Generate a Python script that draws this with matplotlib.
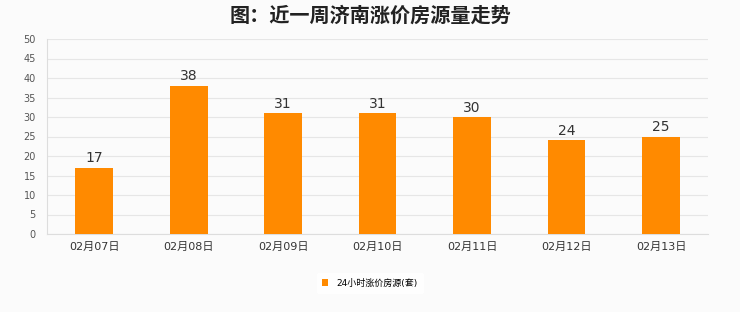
import numpy as np
import matplotlib.pyplot as plt

plt.rcParams['font.family'] = ['DejaVu Sans', 'Noto Sans CJK SC']

dates = ['02月07日', '02月08日', '02月09日', '02月10日', '02月11日', '02月12日', '02月13日']
counts = [17, 38, 31, 31, 30, 24, 25]
series_name = '24小时涨价房源(套)'
title = '图：近一周济南涨价房源量走势'

bg = '#fbfbfb'
orange = '#ff8a00'

fig = plt.figure(figsize=(7.4, 3.12), dpi=100, facecolor=bg)
ax = fig.add_axes([0.0635, 0.25, 0.8935, 0.625], facecolor=bg)

x = np.arange(len(dates))
bars = ax.bar(x, counts, width=0.4, color=orange, label=series_name, zorder=3)
for xi, v in zip(x, counts):
    ax.text(xi, v + 0.6, str(v), ha='center', va='bottom', fontsize=10, color='#333333')

ax.set_xlim(-0.5, len(dates) - 0.5)
ax.set_ylim(0, 50)
ax.set_yticks(range(0, 51, 5))
ax.set_xticks(x)
ax.set_xticklabels(dates, fontsize=8, color='#333333')
ax.tick_params(axis='y', labelsize=7, colors='#555555', length=0, pad=8)
ax.tick_params(axis='x', length=0, pad=6)
ax.grid(axis='y', color='#e6e6e6', linewidth=0.8, zorder=0)
for s in ['top', 'right']:
    ax.spines[s].set_visible(False)
for s in ['left', 'bottom']:
    ax.spines[s].set_color('#dddddd')

fig.suptitle(title, fontsize=14.5, fontweight='bold', y=0.985, color='#222222',
             family=['Noto Sans CJK SC', 'DejaVu Sans'])

leg = fig.legend(handles=[bars], labels=[series_name], loc='center', bbox_to_anchor=(0.5, 0.093),
                 frameon=True, fontsize=6.5, handlelength=0.7, handleheight=0.7,
                 handletextpad=0.9, borderpad=0.6)
leg.get_frame().set_facecolor('white')
leg.get_frame().set_edgecolor('white')

fig.savefig('out.png', dpi=100, facecolor=bg)
